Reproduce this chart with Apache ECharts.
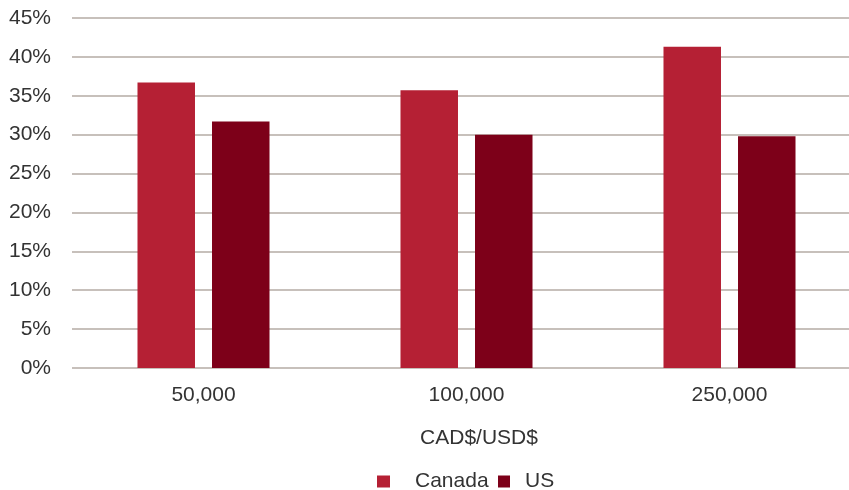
<!DOCTYPE html>
<html><head><meta charset="utf-8">
<script src="https://cdn.jsdelivr.net/npm/echarts@6/dist/echarts.min.js"></script>
<style>html,body{margin:0;padding:0;background:#fff;overflow:hidden}#c{width:849px;height:490px}</style>
</head><body><div id="c"></div>
<script>
const categories = ['50,000', '100,000', '250,000'];
const canada = [36.7, 35.7, 41.3];
const us = [31.7, 30.0, 29.8];
const yTicks = [0, 5, 10, 15, 20, 25, 30, 35, 40, 45];

const chart = echarts.init(document.getElementById('c'));
const txt = '#333333';
chart.setOption({
  animation: false,
  textStyle: { fontFamily: 'Liberation Sans, Arial, sans-serif' },
  grid: { left: 72, top: 18, width: 789, height: 350, containLabel: false, outerBoundsMode: 'none' },
  legend: [
    { left: 372, top: 466, itemWidth: 13, itemHeight: 12, icon: 'rect',
      textStyle: { fontSize: 21, color: txt, padding: [0, 0, 0, 20] }, data: ['Canada'] },
    { left: 493, top: 466, itemWidth: 12, itemHeight: 12, icon: 'rect',
      textStyle: { fontSize: 21, color: txt, padding: [0, 0, 0, 10] }, data: ['US'] }
  ],
  xAxis: {
    type: 'category', data: categories,
    name: 'CAD$/USD$', nameLocation: 'middle', nameGap: 60,
    nameTextStyle: { fontSize: 21, color: txt, padding: [0, 0, 0, 25] },
    axisLine: { show: false }, axisTick: { show: false },
    axisLabel: { fontSize: 21, color: txt, margin: 17 }
  },
  yAxis: {
    type: 'value', min: 0, max: 45, interval: 5,
    axisLabel: { fontSize: 21, color: txt, margin: 21, formatter: v => v + '%' },
    axisLine: { show: false }, axisTick: { show: false },
    splitLine: { lineStyle: { color: '#B4ABA5', width: 1.5 } }
  },
  series: [
    { name: 'Canada', type: 'bar', data: canada, barWidth: 57.5, barGap: '29.6%',
      itemStyle: { color: '#B52034' } },
    { name: 'US', type: 'bar', data: us, barWidth: 57.5,
      itemStyle: { color: '#7D0019' } }
  ]
});
</script></body></html>
